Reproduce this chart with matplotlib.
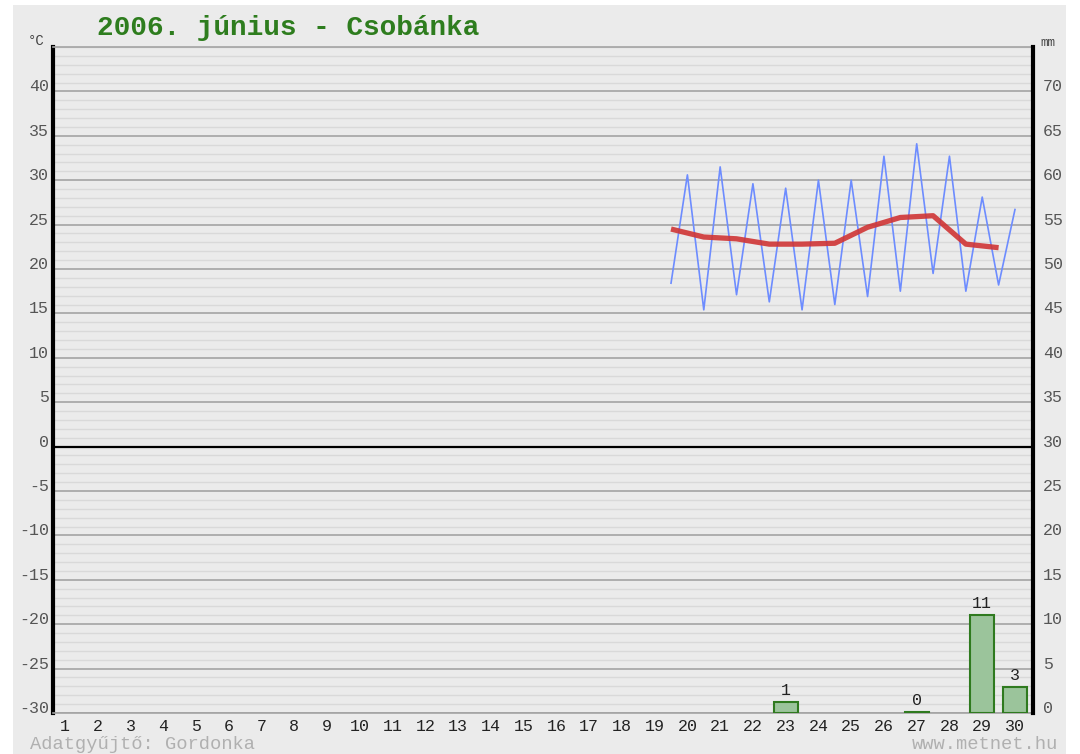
import numpy as np
import matplotlib
matplotlib.use("Agg")
import matplotlib.pyplot as plt
from matplotlib.patches import Rectangle
from matplotlib.ticker import MultipleLocator
import matplotlib.transforms as mtransforms

# ---- data ----
days = list(range(1, 31))
temp_days = [20, 21, 22, 23, 24, 25, 26, 27, 28, 29, 30]
tmin = [18.4, 15.4, 17.1, 16.3, 15.4, 16.0, 16.9, 17.5, 19.5, 17.5, 18.2]
tmax = [30.6, 31.5, 29.6, 29.1, 30.0, 30.0, 32.7, 34.1, 32.7, 28.1, 26.7]
tavg = [24.5, 23.6, 23.4, 22.8, 22.8, 22.9, 24.7, 25.8, 26.0, 22.8, 22.4]
rain_days = [23, 27, 29, 30]
rain_mm = [1.2, 0.15, 11.0, 2.9]
rain_labels = ["1", "0", "11", "3"]
temp_ticks = list(range(-30, 45, 5))
mm_ticks = list(range(0, 75, 5))

title = "2006. június - Csobánka"
footer_left = "Adatgyűjtő: Gordonka"
footer_right = "www.metnet.hu"

BG = "#ebebeb"
MONO = "Liberation Mono"

W, H = 1080, 754
fig = plt.figure(figsize=(W / 100, H / 100), dpi=100, facecolor="white")
fig.patches.append(Rectangle((13 / W, 0), (1066 - 13) / W, 1 - 5 / H,
                             transform=fig.transFigure, facecolor=BG,
                             edgecolor="none", zorder=-10))

L, R, T, B = 53, 1033, 47, 713
ax = fig.add_axes([L / W, 1 - B / H, (R - L) / W, (B - T) / H])
ax.set_facecolor(BG)
ax.set_xlim(0.634, 30.55)
ax.set_ylim(-30, 45)

# grid
ax.yaxis.set_minor_locator(MultipleLocator(1))
ax.set_yticks(temp_ticks[:] + [40])
ax.grid(which="minor", axis="y", color="#d9d9d9", lw=1.0)
ax.grid(which="major", axis="y", color="#a3a3a3", lw=1.2)
ax.set_axisbelow(True)
ax.axhline(0, color="black", lw=1.6, zorder=2)

ax.set_yticks(list(range(-30, 45, 5)))
ax.set_yticklabels([str(v) for v in range(-30, 45, 5)])
ax.tick_params(axis="y", which="both", length=0, pad=3, labelsize=12,
               labelcolor="#555555", labelfontfamily=MONO)
for lbl in ax.get_yticklabels():
    lbl.set_verticalalignment("baseline")

ax.set_xticks(days)
ax.set_xticklabels([str(d) for d in days])
ax.tick_params(axis="x", length=0, pad=4, labelsize=12, labelcolor="#222222",
               labelfontfamily=MONO)

for s in ("left",):
    ax.spines[s].set_linewidth(3)
    ax.spines[s].set_color("black")
ax.spines["right"].set_visible(False)
ax.spines["top"].set_color("#a3a3a3")
ax.spines["top"].set_linewidth(1.2)
ax.spines["bottom"].set_color("#a3a3a3")
ax.spines["bottom"].set_linewidth(1.2)

# temperature lines
td = np.array(temp_days, dtype=float)
xs = np.empty(2 * len(td))
ys = np.empty(2 * len(td))
xs[0::2] = td - 0.5
xs[1::2] = td
ys[0::2] = tmin
ys[1::2] = tmax
ax.plot(xs, ys, color="#6d8cff", lw=1.2, zorder=4)
ax.plot(td - 0.5, tavg, color="#d03535", lw=3.8, alpha=0.9,
        solid_capstyle="butt", zorder=5)

# precipitation axis
ax2 = ax.twinx()
ax2.set_ylim(0, 75)
ax2.set_yticks(mm_ticks + [70])
ax2.set_yticks(list(range(0, 75, 5)))
ax2.set_yticklabels([str(v) for v in range(0, 75, 5)])
ax2.tick_params(axis="y", length=0, pad=7, labelsize=12, labelcolor="#555555",
                labelfontfamily=MONO)
for lbl in ax2.get_yticklabels():
    lbl.set_verticalalignment("baseline")
for s in ("left", "top", "bottom"):
    ax2.spines[s].set_visible(False)
ax2.spines["right"].set_linewidth(3)
ax2.spines["right"].set_color("black")

bars = ax2.bar(rain_days, rain_mm, width=0.73, color="#9bc49b",
               edgecolor="#2f7a1f", lw=1.5, zorder=3)
for d, v, t in zip(rain_days, rain_mm, rain_labels):
    ax2.annotate(t, (d, v), xytext=(0, 3), textcoords="offset points",
                 ha="center", va="bottom", fontsize=12, color="#222222",
                 family=MONO)

# texts
fig.text(97 / W, 1 - 35 / H, title, family=MONO, fontweight="bold",
         fontsize=20, color="#2e7d1e", va="baseline", ha="left")
fig.text(28 / W, 1 - 45 / H, "°C", family=MONO, fontsize=10,
         color="#444444", va="baseline", ha="left")
fig.text(1040 / W, 1 - 46 / H, "mm", family=MONO, fontsize=9,
         color="#444444", va="baseline", ha="left")
fig.text(30 / W, 1 - 749 / H, footer_left, family=MONO, fontsize=13.5,
         color="#b0b0b0", va="baseline", ha="left")
fig.text(1058 / W, 1 - 749 / H, footer_right, family=MONO, fontsize=13.5,
         color="#b0b0b0", va="baseline", ha="right")

fig.savefig("out.png", dpi=100, facecolor="white")
